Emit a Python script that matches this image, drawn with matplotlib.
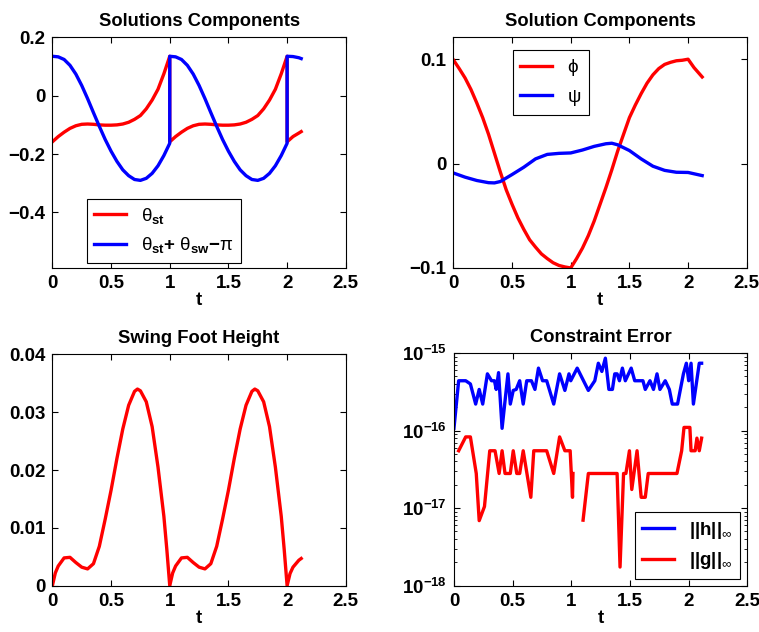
import matplotlib
matplotlib.use("Agg")
import matplotlib.pyplot as plt

plt.rcParams['font.family'] = ['Liberation Sans', 'DejaVu Sans']
plt.rcParams['font.weight'] = 'bold'
plt.rcParams['font.size'] = 13.5
plt.rcParams['mathtext.fontset'] = 'custom'
plt.rcParams['mathtext.rm'] = 'Liberation Sans:weight=normal'
plt.rcParams['mathtext.it'] = 'Liberation Sans:italic:weight=normal'
plt.rcParams['mathtext.bf'] = 'Liberation Sans:bold'
plt.rcParams['mathtext.default'] = 'rm'

# ---- data ----
# Solutions Components (theta), two steps with impacts at t=1 and t=2
theta_t = [0.0, 0.05, 0.1, 0.15, 0.2, 0.25, 0.3, 0.35, 0.4, 0.45, 0.5,
           0.55, 0.6, 0.65, 0.7, 0.75, 0.8, 0.85, 0.9, 0.95, 1.0,
           1.0, 1.05, 1.1, 1.15, 1.2, 1.25, 1.3, 1.35, 1.4, 1.45, 1.5,
           1.55, 1.6, 1.65, 1.7, 1.75, 1.8, 1.85, 1.9, 1.95, 2.0,
           2.0, 2.05, 2.1, 2.12]
theta_st = [-0.158, -0.14, -0.125, -0.112, -0.103, -0.098, -0.097, -0.098, -0.1, -0.101, -0.101,
            -0.1, -0.097, -0.091, -0.081, -0.068, -0.045, -0.015, 0.022, 0.075, 0.135,
            -0.158, -0.14, -0.125, -0.112, -0.103, -0.098, -0.097, -0.098, -0.1, -0.101, -0.101,
            -0.1, -0.097, -0.091, -0.081, -0.068, -0.045, -0.015, 0.022, 0.075, 0.135,
            -0.158, -0.14, -0.128, -0.123]
theta_sum = [0.135, 0.133, 0.124, 0.104, 0.074, 0.035, -0.01, -0.058, -0.105, -0.15, -0.19,
             -0.225, -0.254, -0.274, -0.287, -0.29, -0.283, -0.266, -0.24, -0.205, -0.163,
             0.135, 0.133, 0.124, 0.104, 0.074, 0.035, -0.01, -0.058, -0.105, -0.15, -0.19,
             -0.225, -0.254, -0.274, -0.287, -0.29, -0.283, -0.266, -0.24, -0.205, -0.163,
             0.135, 0.134, 0.13, 0.127]

# Solution Components (phi, psi)
phi_t = [0.0, 0.05, 0.1, 0.15, 0.2, 0.25, 0.3, 0.35, 0.4, 0.45, 0.5,
         0.55, 0.6, 0.65, 0.7, 0.75, 0.8, 0.85, 0.9, 0.95, 1.0,
         1.05, 1.1, 1.15, 1.2, 1.25, 1.3, 1.35, 1.4, 1.45, 1.5,
         1.55, 1.6, 1.65, 1.7, 1.75, 1.8, 1.85, 1.9, 1.95, 2.0,
         2.05, 2.12]
phi = [0.0994, 0.091, 0.082, 0.071, 0.058, 0.044, 0.028, 0.01, -0.008, -0.025, -0.039,
       -0.052, -0.063, -0.073, -0.08, -0.0865, -0.091, -0.095, -0.0976, -0.099, -0.1,
       -0.091, -0.081, -0.069, -0.055, -0.039, -0.023, -0.006, 0.012, 0.028, 0.044,
       0.056, 0.067, 0.077, 0.085, 0.091, 0.095, 0.097, 0.0985, 0.099, 0.1,
       0.092, 0.083]
psi_t = [0.0, 0.1, 0.2, 0.3, 0.35, 0.4, 0.5, 0.6, 0.7, 0.8, 0.9, 1.0,
         1.1, 1.2, 1.3, 1.35, 1.4, 1.5, 1.6, 1.7, 1.8, 1.9, 2.0, 2.12]
psi = [-0.009, -0.013, -0.0162, -0.0183, -0.0185, -0.0172, -0.0105, -0.0035, 0.0045, 0.0088, 0.0098, 0.0102,
       0.013, 0.0165, 0.019, 0.0195, 0.018, 0.0125, 0.0045, -0.0025, -0.0065, -0.0083, -0.0085, -0.0115]

# Swing Foot Height
foot_t = [0.0, 0.025, 0.05, 0.1, 0.15, 0.2, 0.25, 0.3, 0.35, 0.4, 0.45, 0.5,
          0.55, 0.6, 0.65, 0.7, 0.725, 0.75, 0.8, 0.85, 0.9, 0.95, 0.975, 1.0,
          1.025, 1.05, 1.1, 1.15, 1.2, 1.25, 1.3, 1.35, 1.4, 1.45, 1.5,
          1.55, 1.6, 1.65, 1.7, 1.725, 1.75, 1.8, 1.85, 1.9, 1.95, 1.975, 2.0,
          2.025, 2.05, 2.1, 2.12]
foot_h = [0.0, 0.0022, 0.0034, 0.0048, 0.0049, 0.004, 0.0032, 0.0029, 0.0038, 0.0068, 0.0115, 0.0165,
          0.022, 0.0271, 0.0312, 0.0336, 0.034, 0.0337, 0.0318, 0.0275, 0.0205, 0.012, 0.0063, 0.0,
          0.0022, 0.0034, 0.0048, 0.0049, 0.004, 0.0032, 0.0029, 0.0038, 0.0068, 0.0115, 0.0165,
          0.022, 0.0271, 0.0312, 0.0336, 0.034, 0.0337, 0.0318, 0.0275, 0.0205, 0.012, 0.0063, 0.0,
          0.0021, 0.0032, 0.0044, 0.0047]

# Constraint Error
h_t = [0.0, 0.04, 0.1, 0.14, 0.185, 0.215, 0.245, 0.285, 0.32, 0.345,
       0.36, 0.38, 0.41, 0.46, 0.48, 0.505, 0.53, 0.56, 0.59, 0.62,
       0.66, 0.69, 0.72, 0.755, 0.79, 0.85, 0.9, 0.945, 0.98, 0.995,
       1.05, 1.145, 1.2, 1.23, 1.26, 1.29, 1.32, 1.35, 1.37, 1.39,
       1.41, 1.435, 1.46, 1.51, 1.54, 1.61, 1.63, 1.67, 1.70, 1.73,
       1.755, 1.8, 1.835, 1.86, 1.905, 1.955, 1.98, 2.0, 2.02, 2.04,
       2.09, 2.11]
h_err = [1.07e-16, 4.4e-16, 4.4e-16, 4.0e-16, 2.2e-16, 3.4e-16, 2.2e-16, 5.4e-16, 4.4e-16, 4.4e-16,
         3.4e-16, 5.6e-16, 1.07e-16, 5.4e-16, 2.2e-16, 3.3e-16, 3.4e-16, 4.4e-16, 2.2e-16, 4.4e-16,
         4.4e-16, 3.4e-16, 6.4e-16, 4.4e-16, 4.4e-16, 2.2e-16, 5.4e-16, 3.3e-16, 5.4e-16, 4.4e-16,
         6.4e-16, 3.3e-16, 4.4e-16, 7.4e-16, 5.8e-16, 8.6e-16, 3.4e-16, 3.4e-16, 5.4e-16, 5.4e-16,
         4.4e-16, 6.4e-16, 4.4e-16, 6.4e-16, 4.4e-16, 4.4e-16, 3.4e-16, 4.4e-16, 3.4e-16, 5.4e-16,
         3.4e-16, 4.4e-16, 3.4e-16, 2.2e-16, 2.2e-16, 5.4e-16, 7.4e-16, 4.4e-16, 7.4e-16, 2.2e-16,
         7.4e-16, 7.4e-16]
g_t = [0.04, 0.1, 0.14, 0.19, 0.215, 0.26, 0.305, 0.35, 0.385, 0.41,
       0.435, 0.48, 0.505, 0.535, 0.56, 0.59, 0.655, 0.68, 0.79, 0.85,
       0.9, 0.945, 0.99, 1.01, 1.014, 1.05, 1.10, 1.145, 1.39, 1.415,
       1.445, 1.465, 1.495, 1.515, 1.56, 1.595, 1.63, 1.655, 1.9, 1.94,
       1.96, 2.01, 2.02, 2.055, 2.07, 2.09, 2.11]
g_err = [5.5e-17, 8.3e-17, 8.3e-17, 2.8e-17, 6.9e-18, 1.05e-17, 5.5e-17, 5.5e-17, 2.8e-17, 5.5e-17,
         2.8e-17, 2.8e-17, 5.5e-17, 2.8e-17, 2.8e-17, 5.5e-17, 1.38e-17, 5.5e-17, 5.5e-17, 2.8e-17,
         8.3e-17, 5.5e-17, 5.5e-17, 1.38e-17, 2.8e-17, 0.0, 7e-18, 2.8e-17, 2.8e-17, 1.74e-18,
         2.8e-17, 2.8e-17, 5.5e-17, 1.74e-17, 5.5e-17, 1.38e-17, 1.38e-17, 2.8e-17, 2.8e-17, 5.5e-17,
         1.1e-16, 1.1e-16, 5.5e-17, 5.5e-17, 8e-17, 5.5e-17, 8e-17]

x_ticks = [0, 0.5, 1, 1.5, 2, 2.5]
x_labels = ['0', '0.5', '1', '1.5', '2', '2.5']
theta_yticks = [-0.4, -0.2, 0, 0.2]
theta_ylabels = ['\u22120.4', '\u22120.2', '0', '0.2']
phi_yticks = [-0.1, 0, 0.1]
phi_ylabels = ['\u22120.1', '0', '0.1']
foot_yticks = [0, 0.01, 0.02, 0.03, 0.04]
foot_ylabels = ['0', '0.01', '0.02', '0.03', '0.04']
err_yticks = [1e-18, 1e-17, 1e-16, 1e-15]
err_ylabels = [r'$\mathbf{10^{-18}}$', r'$\mathbf{10^{-17}}$',
               r'$\mathbf{10^{-16}}$', r'$\mathbf{10^{-15}}$']

fig = plt.figure(figsize=(7.59, 6.32), dpi=100)
ax1 = fig.add_axes([0.069, 0.576, 0.3866, 0.365])
ax2 = fig.add_axes([0.5973, 0.576, 0.3866, 0.365])
ax3 = fig.add_axes([0.069, 0.0733, 0.3866, 0.366])
ax4 = fig.add_axes([0.5981, 0.0733, 0.3866, 0.368])

lw = 2.4


def style(ax, title):
    ax.set_title(title, fontweight='bold', fontsize=13.2, pad=8)
    ax.set_xlim(0, 2.5)
    ax.set_xticks(x_ticks)
    ax.set_xticklabels(x_labels)
    ax.set_xlabel('t', fontweight='bold', labelpad=0)
    ax.tick_params(direction='in', top=True, right=True, length=4, width=0.8, pad=5)
    ax.tick_params(which='minor', direction='in', right=True, length=2, width=0.6)
    for s in ax.spines.values():
        s.set_linewidth(0.8)


def legend(ax, **kw):
    leg = ax.legend(fancybox=False, edgecolor='black', framealpha=1,
                    handlelength=1.7, borderaxespad=0, **kw)
    leg.get_frame().set_linewidth(0.8)


ax1.plot(theta_t, theta_st, color='red', lw=lw, label=r'$\theta_{\mathbf{st}}$')
ax1.plot(theta_t, theta_sum, color='blue', lw=lw,
         label=r'$\theta_{\mathbf{st}}\mathbf{+}\ \theta_{\mathbf{sw}}\mathbf{-}\pi$')
style(ax1, 'Solutions Components')
ax1.set_ylim(-0.59, 0.2)
ax1.set_yticks(theta_yticks)
ax1.set_yticklabels(theta_ylabels)
legend(ax1, loc='lower left', bbox_to_anchor=(0.118, 0.022))

ax2.plot(phi_t, phi, color='red', lw=lw, label=r'$\phi$')
ax2.plot(psi_t, psi, color='blue', lw=lw, label=r'$\psi$')
style(ax2, 'Solution Components')
ax2.set_ylim(-0.1, 0.121)
ax2.set_yticks(phi_yticks)
ax2.set_yticklabels(phi_ylabels)
legend(ax2, loc='upper left', bbox_to_anchor=(0.203, 0.945))

ax3.plot(foot_t, foot_h, color='red', lw=lw)
style(ax3, 'Swing Foot Height')
ax3.set_ylim(0, 0.04)
ax3.set_yticks(foot_yticks)
ax3.set_yticklabels(foot_ylabels)

ax4.set_yscale('log', nonpositive='mask')
ax4.plot(h_t, h_err, color='blue', lw=lw, label=r'$\mathbf{||h||}_{\infty}$')
ax4.plot(g_t, g_err, color='red', lw=lw, label=r'$\mathbf{||g||}_{\infty}$')
style(ax4, 'Constraint Error')
ax4.set_ylim(1e-18, 1e-15)
ax4.set_yticks(err_yticks)
ax4.set_yticklabels(err_ylabels)
legend(ax4, loc='lower right', bbox_to_anchor=(0.975, 0.03))

fig.savefig('out.png', dpi=100)
